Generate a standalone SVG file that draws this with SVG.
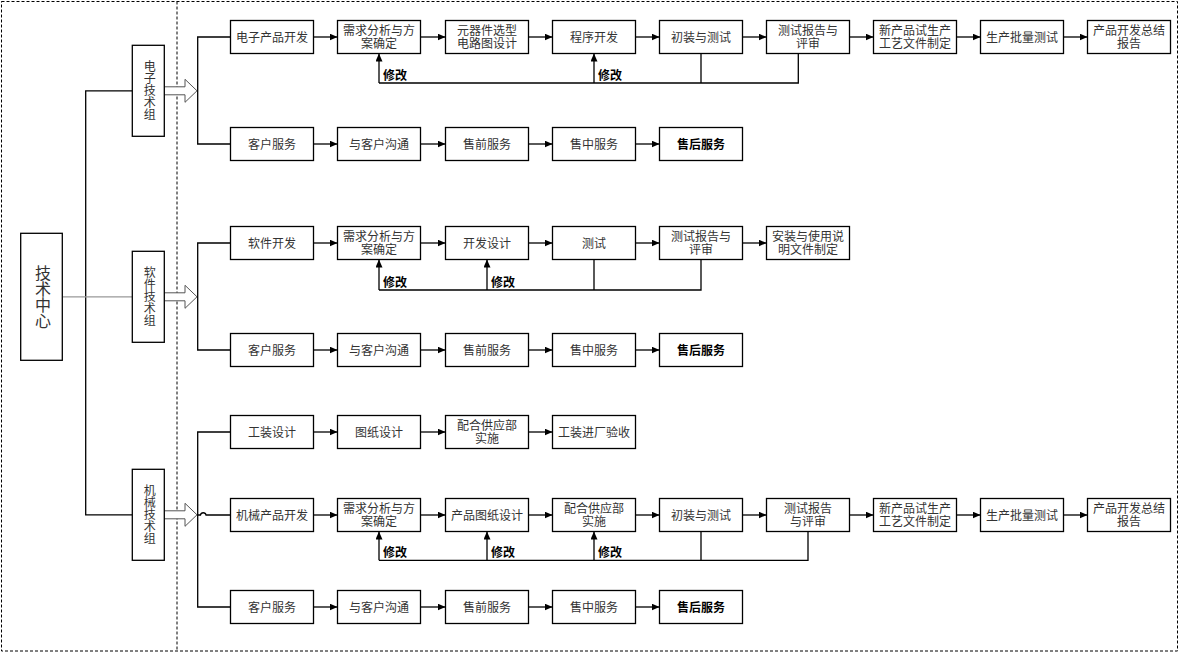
<svg xmlns="http://www.w3.org/2000/svg" width="1179" height="653" viewBox="0 0 1179 653">
<style>
.box{fill:#fff;stroke:#000;stroke-width:1.3}
.t{font-family:"Liberation Serif","Noto Sans CJK SC",serif;font-size:12px;fill:#333;text-anchor:middle}
.b{font-weight:bold;fill:#000}
.lbl{font-family:"Liberation Serif","Noto Sans CJK SC",serif;font-size:12px;font-weight:bold;fill:#000}
.v{font-family:"Liberation Serif","Noto Sans CJK SC",serif;font-size:12px;fill:#333;text-anchor:middle;writing-mode:vertical-rl}
.big{font-family:"Liberation Serif","Noto Sans CJK SC",serif;font-size:16px;fill:#333;text-anchor:middle;writing-mode:vertical-rl}
.ln{stroke:#000;stroke-width:1.3;fill:none}
.arr{stroke:#000;stroke-width:1.3;fill:none;marker-end:url(#ah)}
.dash{stroke:#000;stroke-width:1;fill:none;stroke-dasharray:3 2}
.blk{fill:#fff;stroke:#555;stroke-width:1}
</style>
<defs>
<marker id="ah" viewBox="0 0 8 7" refX="8" refY="3.5" markerWidth="8" markerHeight="7" orient="auto" markerUnits="userSpaceOnUse"><path d="M0 0L8 3.5L0 7z" fill="#000"/></marker>
</defs>
<rect width="1179" height="653" fill="#fff"/>
<rect class="dash" x="1.5" y="1.5" width="1176" height="649.5"/>
<path class="dash" d="M177 1.5V651"/>

<g id="connectors">
<path class="ln" d="M132.3 90.8H85.7V514.8H132.3"/>
<path d="M62.3 296.8H132.3" stroke="#999" stroke-width="1.2" fill="none"/>
<path class="blk" d="M164.3 86.8H185V79.3L197 90.8L185 102.3V94.8H164.3"/>
<path class="blk" d="M164.3 292.8H185V285.3L197 296.8L185 308.3V300.8H164.3"/>
<path class="blk" d="M164.3 510.8H185V503.3L197 514.8L185 526.3V518.8H164.3"/>
<path class="ln" d="M230.5 37H197.7V144H230.5"/>
<path class="ln" d="M230.5 243H197.7V350H230.5"/>
<path class="ln" d="M230.5 432H197.7V607H230.5"/>
<path class="ln" d="M197.7 515H200.5A2.8 2.8 0 0 1 206 515H230.5"/>
<path class="arr" d="M313.5 37H337.5"/><path class="arr" d="M420.5 37H445.5"/><path class="arr" d="M528.5 37H552.5"/><path class="arr" d="M635.5 37H659.5"/><path class="arr" d="M742.5 37H766.5"/><path class="arr" d="M849.5 37H873.5"/><path class="arr" d="M956.5 37H980.5"/><path class="arr" d="M1063.5 37H1087.5"/>
<path class="ln" d="M379 83H798.3V53.5M701 53.5V83"/>
<path class="arr" d="M379 83V53.5"/><path class="arr" d="M594 83V53.5"/>
<path class="arr" d="M313.5 144H337.5"/><path class="arr" d="M420.5 144H445.5"/><path class="arr" d="M528.5 144H552.5"/><path class="arr" d="M635.5 144H659.5"/>
<path class="arr" d="M313.5 243H337.5"/><path class="arr" d="M420.5 243H445.5"/><path class="arr" d="M528.5 243H552.5"/><path class="arr" d="M635.5 243H659.5"/><path class="arr" d="M742.5 243H766.5"/>
<path class="ln" d="M379 290H701V259.5M594 259.5V290"/>
<path class="arr" d="M379 290V259.5"/><path class="arr" d="M487 290V259.5"/>
<path class="arr" d="M313.5 350H337.5"/><path class="arr" d="M420.5 350H445.5"/><path class="arr" d="M528.5 350H552.5"/><path class="arr" d="M635.5 350H659.5"/>
<path class="arr" d="M313.5 432H337.5"/><path class="arr" d="M420.5 432H445.5"/><path class="arr" d="M528.5 432H552.5"/>
<path class="arr" d="M313.5 515H337.5"/><path class="arr" d="M420.5 515H445.5"/><path class="arr" d="M528.5 515H552.5"/><path class="arr" d="M635.5 515H659.5"/><path class="arr" d="M742.5 515H766.5"/><path class="arr" d="M849.5 515H873.5"/><path class="arr" d="M956.5 515H980.5"/><path class="arr" d="M1063.5 515H1087.5"/>
<path class="ln" d="M379 560.3H808V531.5M701 531.5V560.3"/>
<path class="arr" d="M379 560.3V531.5"/><path class="arr" d="M487 560.3V531.5"/><path class="arr" d="M594 560.3V531.5"/>
<path class="arr" d="M313.5 607H337.5"/><path class="arr" d="M420.5 607H445.5"/><path class="arr" d="M528.5 607H552.5"/><path class="arr" d="M635.5 607H659.5"/>
<text class="lbl" x="383" y="80">修改</text><text class="lbl" x="598" y="80">修改</text>
<text class="lbl" x="383" y="287">修改</text><text class="lbl" x="491" y="287">修改</text>
<text class="lbl" x="383" y="557">修改</text><text class="lbl" x="491" y="557">修改</text><text class="lbl" x="598" y="557">修改</text>
</g>

<g id="center"><rect class="box" x="20.7" y="233.3" width="41.6" height="127"/><text class="big" x="41.5" y="296.8">技术中心</text></g>
<g id="g-elec"><rect class="box" x="132.3" y="45.3" width="32" height="91"/><text class="v" x="148.3" y="90.8">电子技术组</text></g>
<g id="g-soft"><rect class="box" x="132.3" y="251.3" width="32" height="91"/><text class="v" x="148.3" y="296.8">软件技术组</text></g>
<g id="g-mech"><rect class="box" x="132.3" y="469.3" width="32" height="91"/><text class="v" x="148.3" y="514.8">机械技术组</text></g>

<g id="e1"><rect class="box" x="230.5" y="20.5" width="83" height="33"/><text class="t" x="272" y="41.5">电子产品开发</text></g>
<g id="e2"><rect class="box" x="337.5" y="20.5" width="83" height="33"/><text class="t"><tspan x="379" y="34.8">需求分析与方</tspan><tspan x="379" y="48.2">案确定</tspan></text></g>
<g id="e3"><rect class="box" x="445.5" y="20.5" width="83" height="33"/><text class="t"><tspan x="487" y="34.8">元器件选型</tspan><tspan x="487" y="48.2">电路图设计</tspan></text></g>
<g id="e4"><rect class="box" x="552.5" y="20.5" width="83" height="33"/><text class="t" x="594" y="41.5">程序开发</text></g>
<g id="e5"><rect class="box" x="659.5" y="20.5" width="83" height="33"/><text class="t" x="701" y="41.5">初装与测试</text></g>
<g id="e6"><rect class="box" x="766.5" y="20.5" width="83" height="33"/><text class="t"><tspan x="808" y="34.8">测试报告与</tspan><tspan x="808" y="48.2">评审</tspan></text></g>
<g id="e7"><rect class="box" x="873.5" y="20.5" width="83" height="33"/><text class="t"><tspan x="915" y="34.8">新产品试生产</tspan><tspan x="915" y="48.2">工艺文件制定</tspan></text></g>
<g id="e8"><rect class="box" x="980.5" y="20.5" width="83" height="33"/><text class="t" x="1022" y="41.5">生产批量测试</text></g>
<g id="e9"><rect class="box" x="1087.5" y="20.5" width="83" height="33"/><text class="t"><tspan x="1129" y="34.8">产品开发总结</tspan><tspan x="1129" y="48.2">报告</tspan></text></g>

<g id="ec1"><rect class="box" x="230.5" y="127.5" width="83" height="33"/><text class="t" x="272" y="148.5">客户服务</text></g>
<g id="ec2"><rect class="box" x="337.5" y="127.5" width="83" height="33"/><text class="t" x="379" y="148.5">与客户沟通</text></g>
<g id="ec3"><rect class="box" x="445.5" y="127.5" width="83" height="33"/><text class="t" x="487" y="148.5">售前服务</text></g>
<g id="ec4"><rect class="box" x="552.5" y="127.5" width="83" height="33"/><text class="t" x="594" y="148.5">售中服务</text></g>
<g id="ec5"><rect class="box" x="659.5" y="127.5" width="83" height="33"/><text class="t b" x="701" y="148.5">售后服务</text></g>

<g id="s1"><rect class="box" x="230.5" y="226.5" width="83" height="33"/><text class="t" x="272" y="247.5">软件开发</text></g>
<g id="s2"><rect class="box" x="337.5" y="226.5" width="83" height="33"/><text class="t"><tspan x="379" y="240.8">需求分析与方</tspan><tspan x="379" y="254.2">案确定</tspan></text></g>
<g id="s3"><rect class="box" x="445.5" y="226.5" width="83" height="33"/><text class="t" x="487" y="247.5">开发设计</text></g>
<g id="s4"><rect class="box" x="552.5" y="226.5" width="83" height="33"/><text class="t" x="594" y="247.5">测试</text></g>
<g id="s5"><rect class="box" x="659.5" y="226.5" width="83" height="33"/><text class="t"><tspan x="701" y="240.8">测试报告与</tspan><tspan x="701" y="254.2">评审</tspan></text></g>
<g id="s6"><rect class="box" x="766.5" y="226.5" width="83" height="33"/><text class="t"><tspan x="808" y="240.8">安装与使用说</tspan><tspan x="808" y="254.2">明文件制定</tspan></text></g>

<g id="sc1"><rect class="box" x="230.5" y="333.5" width="83" height="33"/><text class="t" x="272" y="354.5">客户服务</text></g>
<g id="sc2"><rect class="box" x="337.5" y="333.5" width="83" height="33"/><text class="t" x="379" y="354.5">与客户沟通</text></g>
<g id="sc3"><rect class="box" x="445.5" y="333.5" width="83" height="33"/><text class="t" x="487" y="354.5">售前服务</text></g>
<g id="sc4"><rect class="box" x="552.5" y="333.5" width="83" height="33"/><text class="t" x="594" y="354.5">售中服务</text></g>
<g id="sc5"><rect class="box" x="659.5" y="333.5" width="83" height="33"/><text class="t b" x="701" y="354.5">售后服务</text></g>

<g id="f1"><rect class="box" x="230.5" y="415.5" width="83" height="33"/><text class="t" x="272" y="436.5">工装设计</text></g>
<g id="f2"><rect class="box" x="337.5" y="415.5" width="83" height="33"/><text class="t" x="379" y="436.5">图纸设计</text></g>
<g id="f3"><rect class="box" x="445.5" y="415.5" width="83" height="33"/><text class="t"><tspan x="487" y="429.8">配合供应部</tspan><tspan x="487" y="443.2">实施</tspan></text></g>
<g id="f4"><rect class="box" x="552.5" y="415.5" width="83" height="33"/><text class="t" x="594" y="436.5">工装进厂验收</text></g>

<g id="m1"><rect class="box" x="230.5" y="498.5" width="83" height="33"/><text class="t" x="272" y="519.5">机械产品开发</text></g>
<g id="m2"><rect class="box" x="337.5" y="498.5" width="83" height="33"/><text class="t"><tspan x="379" y="512.8">需求分析与方</tspan><tspan x="379" y="526.2">案确定</tspan></text></g>
<g id="m3"><rect class="box" x="445.5" y="498.5" width="83" height="33"/><text class="t" x="487" y="519.5">产品图纸设计</text></g>
<g id="m4"><rect class="box" x="552.5" y="498.5" width="83" height="33"/><text class="t"><tspan x="594" y="512.8">配合供应部</tspan><tspan x="594" y="526.2">实施</tspan></text></g>
<g id="m5"><rect class="box" x="659.5" y="498.5" width="83" height="33"/><text class="t" x="701" y="519.5">初装与测试</text></g>
<g id="m6"><rect class="box" x="766.5" y="498.5" width="83" height="33"/><text class="t"><tspan x="808" y="512.8">测试报告</tspan><tspan x="808" y="526.2">与评审</tspan></text></g>
<g id="m7"><rect class="box" x="873.5" y="498.5" width="83" height="33"/><text class="t"><tspan x="915" y="512.8">新产品试生产</tspan><tspan x="915" y="526.2">工艺文件制定</tspan></text></g>
<g id="m8"><rect class="box" x="980.5" y="498.5" width="83" height="33"/><text class="t" x="1022" y="519.5">生产批量测试</text></g>
<g id="m9"><rect class="box" x="1087.5" y="498.5" width="83" height="33"/><text class="t"><tspan x="1129" y="512.8">产品开发总结</tspan><tspan x="1129" y="526.2">报告</tspan></text></g>

<g id="mc1"><rect class="box" x="230.5" y="590.5" width="83" height="33"/><text class="t" x="272" y="611.5">客户服务</text></g>
<g id="mc2"><rect class="box" x="337.5" y="590.5" width="83" height="33"/><text class="t" x="379" y="611.5">与客户沟通</text></g>
<g id="mc3"><rect class="box" x="445.5" y="590.5" width="83" height="33"/><text class="t" x="487" y="611.5">售前服务</text></g>
<g id="mc4"><rect class="box" x="552.5" y="590.5" width="83" height="33"/><text class="t" x="594" y="611.5">售中服务</text></g>
<g id="mc5"><rect class="box" x="659.5" y="590.5" width="83" height="33"/><text class="t b" x="701" y="611.5">售后服务</text></g>
</svg>
